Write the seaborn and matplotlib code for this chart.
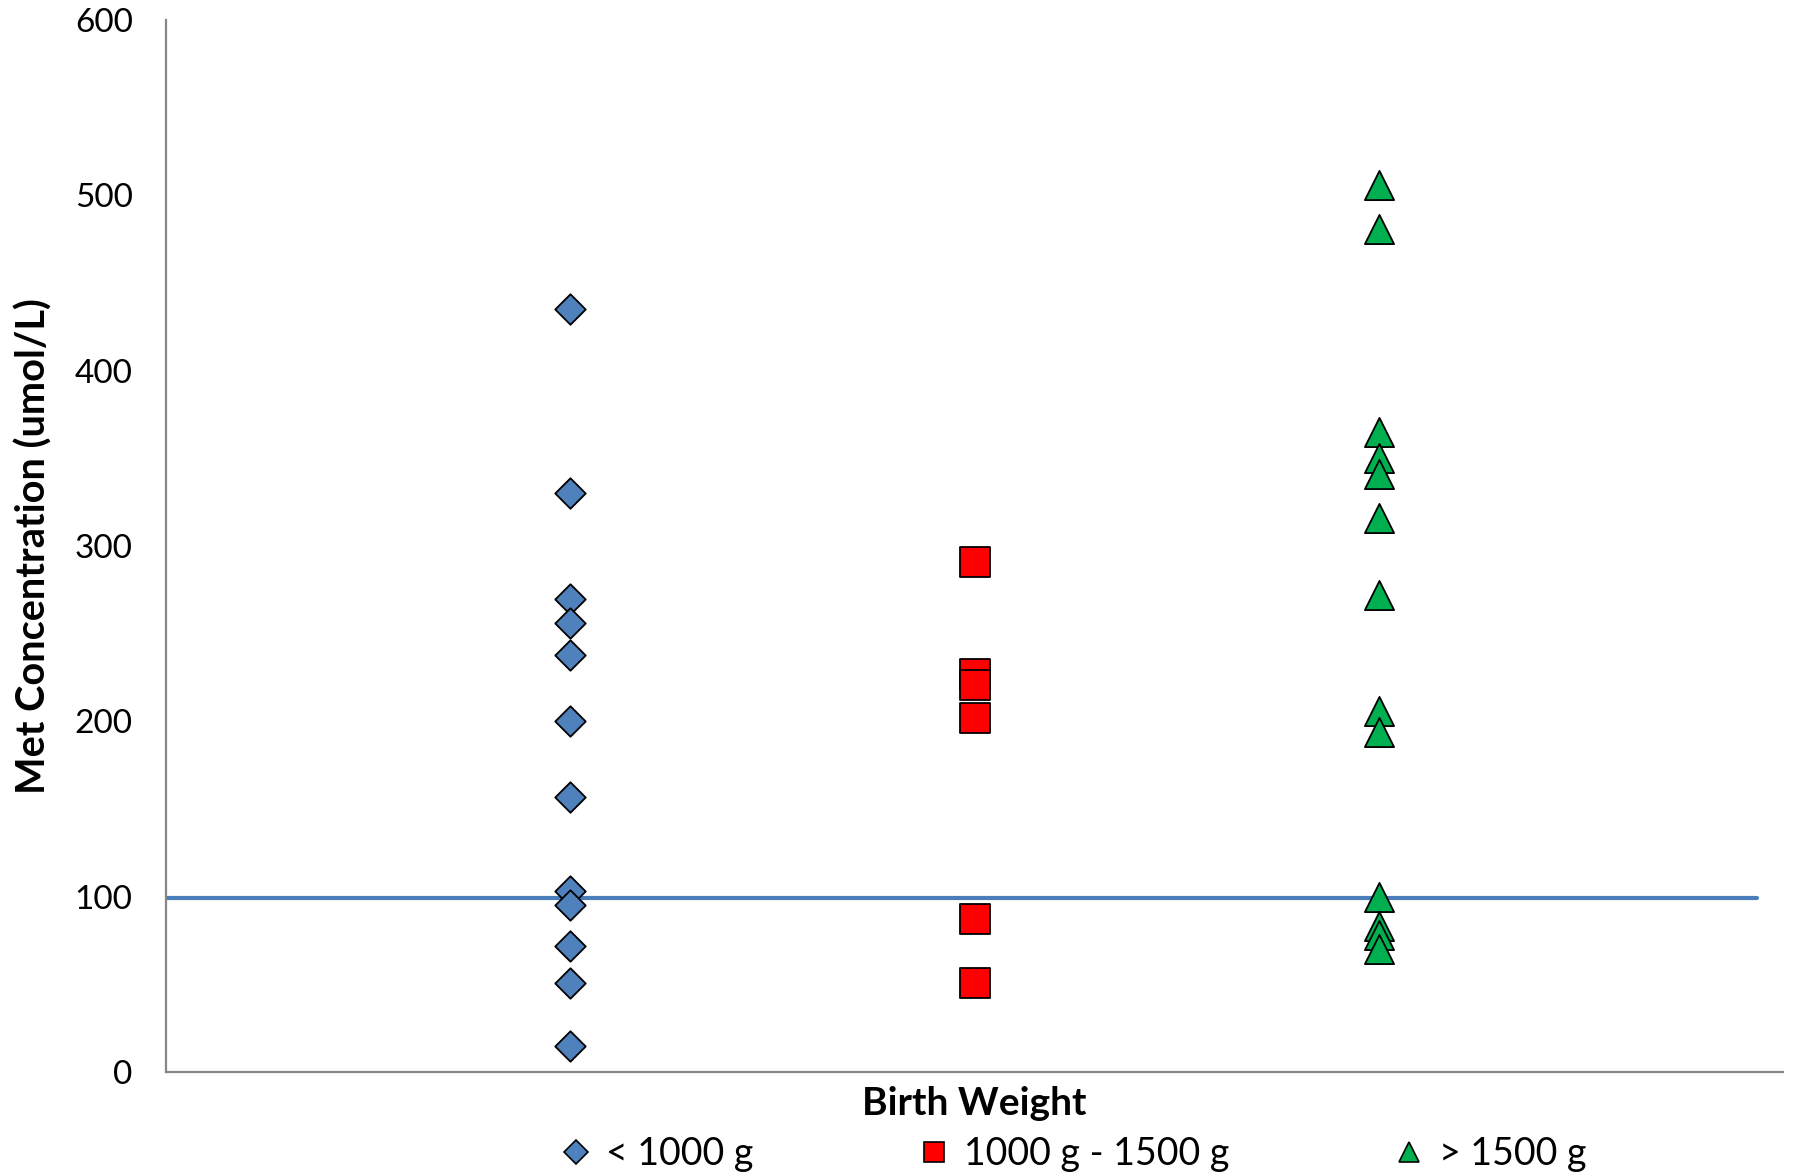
import pandas as pd
import seaborn as sns
import matplotlib.pyplot as plt
from matplotlib.lines import Line2D

# Met concentration (umol/L) by birth weight group
groups = ['< 1000 g', '1000 g - 1500 g', '> 1500 g']
under_1000 = [435, 330, 270, 256, 238, 200, 157, 103, 95, 72, 51, 15]
between_1000_1500 = [291, 227, 221, 202, 87, 51]
over_1500 = [506, 481, 365, 350, 341, 316, 272, 206, 194, 100, 83, 78, 70]
threshold = 99

rows = []
for pos, (name, vals) in enumerate(zip(groups, [under_1000, between_1000_1500, over_1500]), start=1):
    for v in vals:
        rows.append({'pos': pos, 'group': name, 'met': v})
df = pd.DataFrame(rows)

colors = {'< 1000 g': '#4F81BD', '1000 g - 1500 g': '#FF0000', '> 1500 g': '#00B050'}
markers = {'< 1000 g': 'D', '1000 g - 1500 g': 's', '> 1500 g': '^'}
sizes = {'< 1000 g': 15.5, '1000 g - 1500 g': 21.5, '> 1500 g': 21}

sns.set_style('white')
plt.rcParams['font.family'] = ['Lato', 'DejaVu Sans']
plt.rcParams['text.color'] = 'black'
plt.rcParams['axes.labelcolor'] = 'black'
plt.rcParams['ytick.labelcolor'] = 'black'

fig = plt.figure(figsize=(17.96, 11.75), dpi=100)
ax = fig.add_axes([166 / 1796, 1 - 1072 / 1175, (1783 - 166) / 1796, (1072 - 20) / 1175])

ax.plot([0, 3.935], [threshold, threshold], color='#4A7EBB', lw=3, zorder=1)

for name in groups:
    sub = df[df['group'] == name]
    sns.scatterplot(data=sub, x='pos', y='met', ax=ax, marker=markers[name],
                    color=colors[name], s=sizes[name] ** 2, edgecolor='black',
                    linewidth=1.3, zorder=3, legend=False)

ax.set_xlim(0, 4)
ax.set_ylim(0, 600)
ax.set_yticks(range(0, 601, 100))
ax.set_xticks([])
ax.tick_params(axis='y', direction='out', length=11, width=1.5, color='#868686',
               labelsize=24, pad=13)
for s in ['top', 'right']:
    ax.spines[s].set_visible(False)
for s in ['left', 'bottom']:
    ax.spines[s].set_color('#868686')
    ax.spines[s].set_linewidth(1.6)

ax.set_ylabel('Met Concentration (umol/L)', fontsize=28.5, fontweight='bold', labelpad=16)
ax.set_xlabel('Birth Weight', fontsize=28, fontweight='bold', labelpad=10)

handles = [Line2D([], [], ls='none', marker=markers[g], markerfacecolor=colors[g],
                  markeredgecolor='black', markeredgewidth=1.2,
                  markersize={'D': 12, 's': 15, '^': 15}[markers[g]]) for g in groups]
fig.legend(handles, groups, loc='center', bbox_to_anchor=(0.597, 0.018),
           ncol=3, frameon=False, fontsize=27, handlelength=1.0, handletextpad=0.3,
           columnspacing=4.3, borderaxespad=0, borderpad=0)

fig.savefig('out.png', dpi=100)
